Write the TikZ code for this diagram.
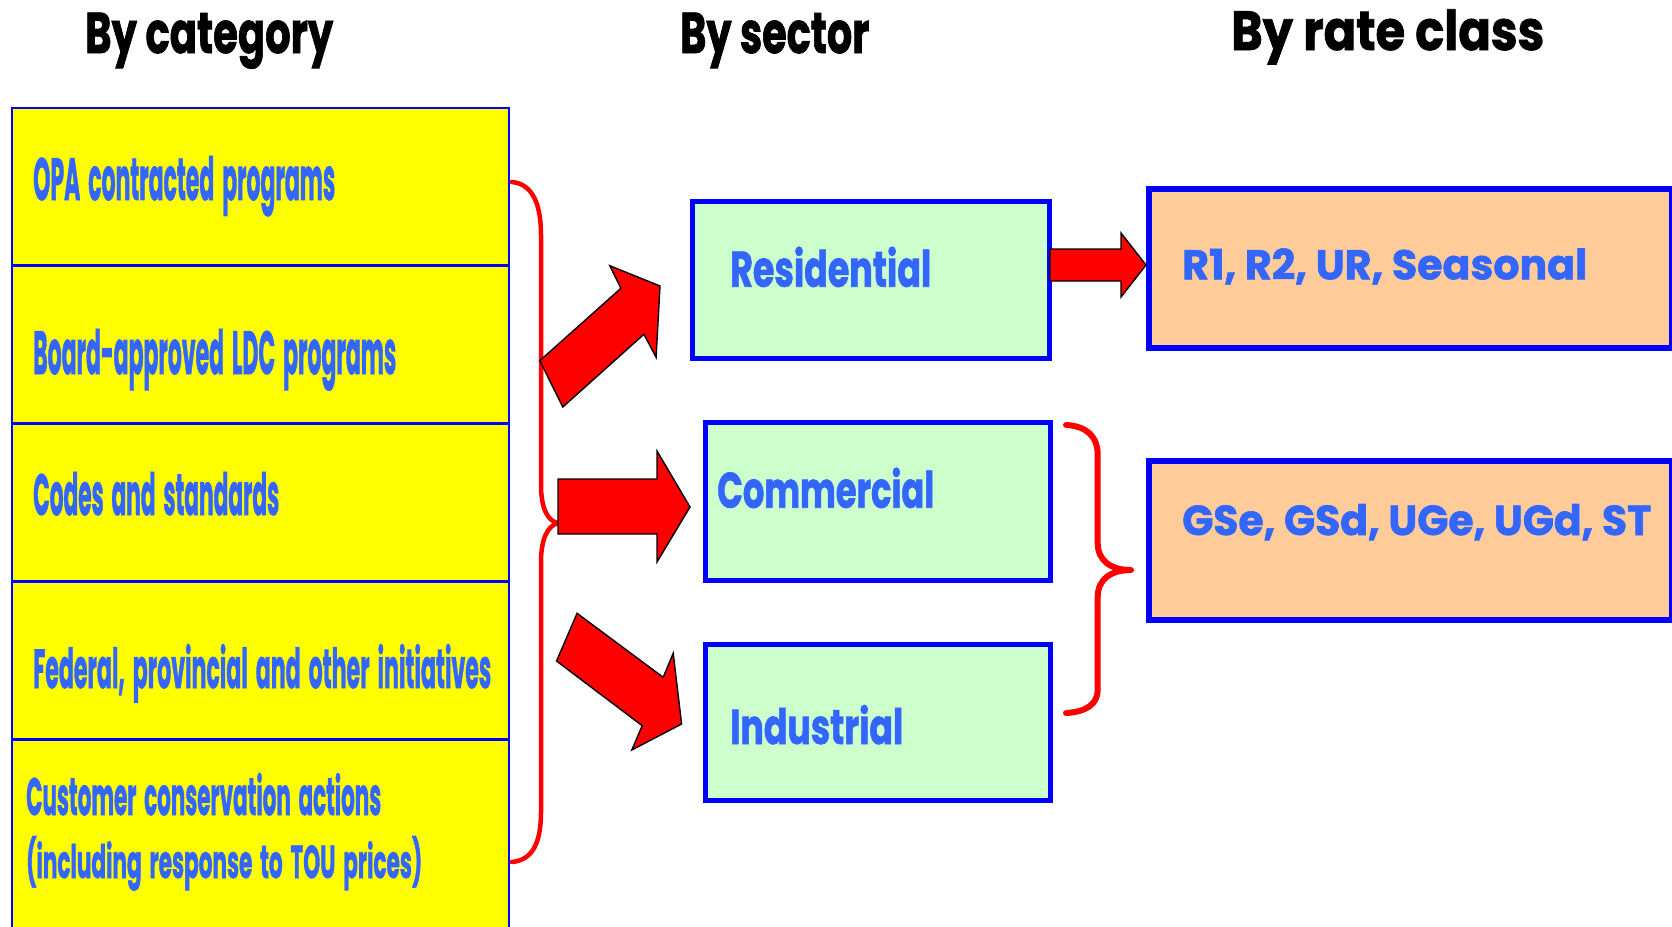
\documentclass[tikz,border=0pt]{standalone}
\usepackage{fontspec}
\usepackage{graphicx}
\setmainfont{Poppins}[BoldFeatures={FakeBold=1.5}]
\definecolor{txtblue}{RGB}{51,102,255}
\definecolor{boxblue}{RGB}{0,0,255}
\definecolor{rowyellow}{RGB}{255,255,0}
\definecolor{sectgreen}{RGB}{204,255,204}
\definecolor{rateorange}{RGB}{255,204,153}
\definecolor{arrred}{RGB}{255,0,0}
\newcommand{\fitt}[3]{\resizebox{#1pt}{#2pt}{\bfseries #3}}
\newcommand{\fitw}[3]{\resizebox{#1pt}{#2pt}{\bfseries\spaceskip=0.36em\relax #3}}
\begin{document}
\begin{tikzpicture}[x=1pt,y=-1pt,
  rowbox/.style={draw=boxblue, line width=2.5pt, fill=rowyellow, minimum width=496.9pt, inner sep=0pt, anchor=north west, rectangle},
  sectbox/.style={draw=boxblue, line width=5pt, fill=sectgreen, inner sep=0pt, anchor=north west, rectangle},
  ratebox/.style={draw=boxblue, line width=6pt, fill=rateorange, inner sep=0pt, anchor=north west, rectangle},
  lbl/.style={inner sep=0pt, anchor=base west, text=txtblue},
  ttl/.style={inner sep=0pt, anchor=base west, text=black},
  blockarrow/.style={fill=arrred, draw=black, line width=1.4pt, line join=miter},
  bracket/.style={draw=arrred, line cap=round, line join=round}
]
\useasboundingbox (0,0) rectangle (1672,926);
\fill[white] (0,0) rectangle (1672,926);

% titles
\node[ttl] (t1) at (85,53) {\fitt{248}{40.3}{By category}};
\node[ttl] (t2) at (680,53) {\fitt{189}{40.3}{By sector}};
\node[ttl] (t3) at (1231,50) {\fitt{313}{40.7}{By rate class}};

% left column rows
\node[rowbox, minimum height=157.4pt] (r1) at (10.7,106.6) {};
\node[rowbox, minimum height=158pt] (r2) at (10.7,264) {};
\node[rowbox, minimum height=158pt] (r3) at (10.7,422) {};
\node[rowbox, minimum height=158pt] (r4) at (10.7,580) {};
\node[rowbox, minimum height=210pt] (r5) at (10.7,738) {};

\node[lbl] (l1) at (33,200) {\fitw{302}{44}{OPA contracted programs}};
\node[lbl] (l2) at (33,374) {\fitw{363}{45}{Board-approved LDC programs}};
\node[lbl] (l3) at (33,515) {\fitw{246}{43}{Codes and standards}};
\node[lbl] (l4) at (33,688) {\fitw{458}{44}{Federal, provincial and other initiatives}};
\node[lbl] (l5) at (26,815) {\fitw{355}{42}{Customer conservation actions}};
\node[lbl] (l6) at (26,878) {\fitw{396}{42}{(including response to TOU prices)}};

% sector boxes
\node[sectbox, minimum width=357pt, minimum height=157pt] (res) at (690,199) {};
\node[sectbox, minimum width=345pt, minimum height=157.3pt] (com) at (702.5,420.2) {};
\node[sectbox, minimum width=345.5pt, minimum height=156.7pt] (ind) at (702.5,641.5) {};
\node[lbl] (resl) at (730,286.7) {\fitt{201}{40}{Residential}};
\node[lbl] (coml) at (717,507.7) {\fitt{217}{40}{Commercial}};
\node[lbl] (indl) at (730,744) {\fitt{173}{39}{Industrial}};

% rate class boxes
\node[ratebox, minimum width=523pt, minimum height=159pt] (rr) at (1145.7,185.7) {};
\node[ratebox, minimum width=523pt, minimum height=159pt] (rg) at (1145.7,458) {};
\node[lbl] (rrl) at (1182,279.3) {\fitt{405}{31}{R1, R2, UR, Seasonal}};
\node[lbl] (rgl) at (1182,535) {\fitt{469}{31}{GSe, GSd, UGe, UGd, ST}};

% left brace
\draw[bracket, line width=4.5pt] (512,182) .. controls (533,184) and (541,205) .. (541,235)
  -- (541,485) .. controls (541,507) and (547,521) .. (558,523)
  .. controls (547,526) and (541,540) .. (541,562)
  -- (541,812) .. controls (541,842) and (533,860) .. (512,862);

% right brace
\draw[bracket, line width=6pt] (1066,425) .. controls (1086,426) and (1097.7,436) .. (1097.7,455)
  -- (1097.7,543) .. controls (1097.7,560) and (1110,570) .. (1131,570)
  .. controls (1110,570) and (1097.7,580) .. (1097.7,597)
  -- (1097.7,690) .. controls (1097.7,704) and (1086,712) .. (1066,713);

% block arrows
\draw[blockarrow] (539.8,360.7) -- (620.9,288.3) -- (609.8,265.7) -- (660,286)
  -- (656.1,357.3) -- (643.9,334.3) -- (562.8,407) -- cycle;
\draw[blockarrow] (558,479) -- (657,479) -- (657,451) -- (690,507)
  -- (657,562) -- (657,534) -- (558,534) -- cycle;
\draw[blockarrow] (577.1,613.3) -- (663.2,677.3) -- (673.2,653.3) -- (681.6,724)
  -- (631.8,750) -- (642.2,725.7) -- (556.5,661) -- cycle;
\draw[blockarrow] (1050,249) -- (1121,249) -- (1121,233) -- (1146,265)
  -- (1121,297) -- (1121,281) -- (1050,281) -- cycle;
\end{tikzpicture}
\end{document}
